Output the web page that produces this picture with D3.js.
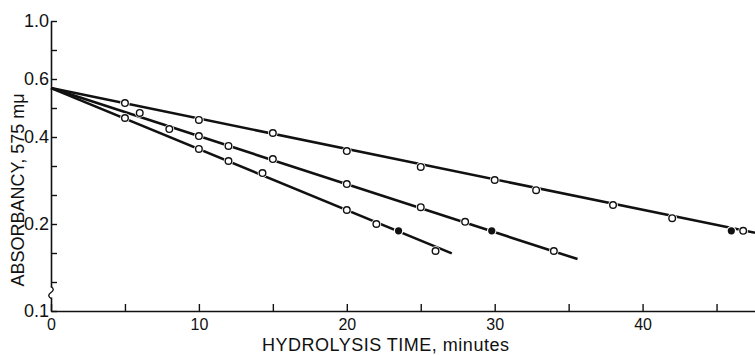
<!DOCTYPE html>
<html>
<head>
<meta charset="utf-8">
<script src="https://cdn.jsdelivr.net/npm/d3@7"></script>
<style>
  body { margin: 0; background: #fff; }
  text { font-family: "Liberation Sans", Arial, sans-serif; fill: #111; }
</style>
</head>
<body>
<div id="grafico"></div>
<script>
// Tamaño de la gráfica
const w = 755;
const h = 355;

// Ejes
const xMin = 0, xMax = 47.6;
const xTicks = [0, 5, 10, 15, 20, 25, 30, 35, 40, 45];
const xTickLabels = ['0', '', '10', '', '20', '', '30', '', '40', ''];
// Marcas del eje Y: cada 0.1 en log10 (de 1.0 a 0.1)
const yTickExp = [0, 1, 2, 3, 4, 5, 6, 7, 8, 9, 10];
const yTickLabels = ['1.0', '', '0.6', '', '0.4', '', '', '0.2', '', '', '0.1'];

// Punto de partida común de las tres rectas
const startTime = 0;
const startValue = 0.587;

// Serie 1 (más lenta)
const s1Times  = [5, 10, 15, 20, 25, 30, 32.8, 38, 42, 46.8];
const s1Values = [0.521, 0.456, 0.411, 0.356, 0.314, 0.283, 0.261, 0.232, 0.209, 0.189];
const s1Filled = [[46, 0.189]];
const s1End = [47.6, 0.186];

// Serie 2
const s2Times  = [6, 8, 10, 12, 15, 20, 25, 28, 34];
const s2Values = [0.482, 0.424, 0.401, 0.371, 0.334, 0.274, 0.228, 0.203, 0.161];
const s2Filled = [[29.8, 0.189]];
const s2End = [35.6, 0.151];

// Serie 3 (más rápida)
const s3Times  = [5, 10, 12, 14.3, 20, 22, 26];
const s3Values = [0.463, 0.362, 0.329, 0.299, 0.223, 0.1995, 0.161];
const s3Filled = [[23.5, 0.189]];
const s3End = [27.1, 0.158];

const series = [
  { t: s1Times, v: s1Values, filled: s1Filled, end: s1End },
  { t: s2Times, v: s2Values, filled: s2Filled, end: s2End },
  { t: s3Times, v: s3Values, filled: s3Filled, end: s3End }
];

// Escalas
const xScale = d3.scaleLinear().domain([xMin, xMax]).range([51, w]);
const yScale = d3.scaleLog().domain([0.1, 1.0]).range([311, 21]);

const svg = d3.select('#grafico')
  .append('svg')
  .attr('width', w)
  .attr('height', h);

svg.append('rect').attr('width', w).attr('height', h).attr('fill', '#fff');

// Rectas ajustadas
const linea = d3.line()
  .x((d) => xScale(d[0]))
  .y((d) => yScale(d[1]));

series.forEach(function (s) {
  svg.append('path')
    .datum([[startTime, startValue], s.end])
    .attr('fill', 'none')
    .attr('stroke', '#111')
    .attr('stroke-width', 2.6)
    .attr('d', linea);
});

// Puntos: halo blanco, luego circulos abiertos y llenos
series.forEach(function (s) {
  const abiertos = s.t.map((t, i) => [t, s.v[i]]);
  const todos = abiertos.concat(s.filled);

  svg.selectAll(null)
    .data(todos)
    .enter()
    .append('circle')
    .attr('cx', (d) => xScale(d[0]))
    .attr('cy', (d) => yScale(d[1]))
    .attr('r', 4.8)
    .attr('fill', '#fff');

  svg.selectAll(null)
    .data(abiertos)
    .enter()
    .append('circle')
    .attr('cx', (d) => xScale(d[0]))
    .attr('cy', (d) => yScale(d[1]))
    .attr('r', 3.3)
    .attr('fill', '#fff')
    .attr('stroke', '#111')
    .attr('stroke-width', 1.4);

  svg.selectAll(null)
    .data(s.filled)
    .enter()
    .append('circle')
    .attr('cx', (d) => xScale(d[0]))
    .attr('cy', (d) => yScale(d[1]))
    .attr('r', 3.6)
    .attr('fill', '#111');
});

// Eje X
const ejeX = svg.append('g')
  .attr('transform', 'translate(0,' + yScale(0.1) + ')')
  .call(d3.axisBottom(xScale)
    .tickValues(xTicks)
    .tickSizeInner(-7)
    .tickSizeOuter(0)
    .tickPadding(8)
    .tickFormat((d, i) => xTickLabels[i]));
ejeX.select('.domain').attr('stroke', '#111').attr('stroke-width', 1.6);
ejeX.selectAll('.tick line').attr('stroke', '#111').attr('stroke-width', 1.4);
ejeX.selectAll('.tick text')
  .style('font-family', '"Liberation Sans", Arial, sans-serif')
  .style('font-size', '16px')
  .attr('fill', '#111');

// Eje Y
const yTicks = yTickExp.map((k) => Math.pow(10, -k / 10));
const ejeY = svg.append('g')
  .attr('transform', 'translate(' + xScale(0) + ',0)')
  .call(d3.axisLeft(yScale)
    .tickValues(yTicks)
    .tickSizeInner(-6)
    .tickSizeOuter(0)
    .tickPadding(2)
    .tickFormat((d, i) => yTickLabels[i]));
ejeY.select('.domain').attr('stroke', '#111').attr('stroke-width', 1.6);
ejeY.selectAll('.tick line').attr('stroke', '#111').attr('stroke-width', 1.4);
ejeY.selectAll('.tick text')
  .style('font-family', '"Liberation Sans", Arial, sans-serif')
  .style('font-size', '18px')
  .attr('fill', '#111');

// Corte del eje Y
const yCorte = (yScale(0.1) + yScale(Math.pow(10, -0.9))) / 2 - 4;
svg.append('rect')
  .attr('x', xScale(0) - 2)
  .attr('y', yCorte - 5)
  .attr('width', 4)
  .attr('height', 10)
  .attr('fill', '#fff');
svg.append('path')
  .attr('d', 'M' + xScale(0) + ',' + (yCorte - 6) +
    ' c 3,2 3,4 0,6 c -3,2 -3,4 0,6')
  .attr('fill', 'none')
  .attr('stroke', '#111')
  .attr('stroke-width', 1.4);

// Titulo eje X
svg.append('text')
  .attr('x', 262)
  .attr('y', 351)
  .style('font-size', '18px')
  .style('letter-spacing', '0.5px')
  .text('HYDROLYSIS TIME, minutes');

// Titulo eje Y
svg.append('text')
  .attr('text-anchor', 'middle')
  .attr('transform', 'translate(24,190)rotate(-90)')
  .style('font-size', '18px')
  .text('ABSORBANCY, 575 mμ');
</script>
</body>
</html>
